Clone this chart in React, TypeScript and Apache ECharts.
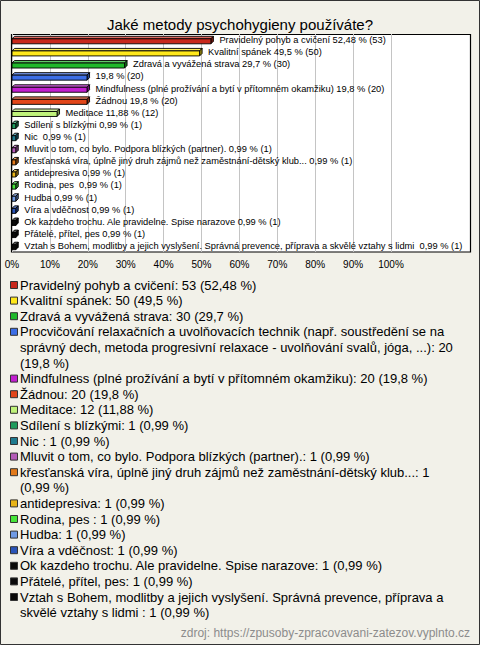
import React, { useEffect, useRef } from "react";
import * as echarts from "echarts";

const title = "Jaké metody psychohygieny používáte?";
const source = "zdroj: https://zpusoby-zpracovavani-zatezov.vyplnto.cz";

const names = [
  "Pravidelný pohyb a cvičení",
  "Kvalitní spánek",
  "Zdravá a vyvážená strava",
  "Procvičování relaxačních a uvolňovacích technik (např. soustředění se na správný dech, metoda progresivní relaxace - uvolňování svalů, jóga, ...)",
  "Mindfulness (plné prožívání a bytí v přítomném okamžiku)",
  "Žádnou",
  "Meditace",
  "Sdílení s blízkými",
  "Nic ",
  "Mluvit o tom, co bylo. Podpora blízkých (partner).",
  "křesťanská víra, úplně jiný druh zájmů než zaměstnání-dětský klub...",
  "antidepresiva",
  "Rodina, pes ",
  "Hudba",
  "Víra a vděčnost",
  "Ok kazdeho trochu. Ale pravidelne. Spise narazove",
  "Přátelé, přítel, pes",
  "Vztah s Bohem, modlitby a jejich vyslyšení. Správná prevence, příprava a skvělé vztahy s lidmi ",
];
const counts = [53, 50, 30, 20, 20, 20, 12, 1, 1, 1, 1, 1, 1, 1, 1, 1, 1, 1];
const pcts = [52.48, 49.5, 29.7, 19.8, 19.8, 19.8, 11.88, 0.99, 0.99, 0.99, 0.99, 0.99, 0.99, 0.99, 0.99, 0.99, 0.99, 0.99];
const colors = [
  "#c8281c", "#ffe81a", "#1fb82a", "#3c6ee6", "#c21fd0", "#e2461a",
  "#bff27a", "#1f9a5c", "#1f7a8e", "#b45cb8", "#e27a1c", "#e8b418",
  "#46e43a", "#6f9ae4", "#2a54b8", "#0a0a0a", "#0a0a0a", "#0a0a0a",
];

const FONT = "'Liberation Sans', Arial, sans-serif";
const fmt = (p: number) => String(p).replace(".", ",");

function shade(hex: string, f: number) {
  const n = parseInt(hex.slice(1), 16);
  let r = (n >> 16) & 255, g = (n >> 8) & 255, b = n & 255;
  if (f >= 0) {
    r = r + (255 - r) * f; g = g + (255 - g) * f; b = b + (255 - b) * f;
  } else {
    r = r * (1 + f); g = g * (1 + f); b = b * (1 + f);
  }
  return `rgb(${r | 0},${g | 0},${b | 0})`;
}

function wrapText(text: string, font: string, maxW: number): string[] {
  const ctx = document.createElement("canvas").getContext("2d")!;
  ctx.font = font;
  const words = text.split(" ");
  const lines: string[] = [];
  let cur = "";
  for (const w of words) {
    const t = cur ? cur + " " + w : w;
    if (ctx.measureText(t).width > maxW && cur) {
      lines.push(cur);
      cur = w;
    } else cur = t;
  }
  if (cur) lines.push(cur);
  return lines;
}

export default function App() {
  const ref = useRef<HTMLDivElement>(null);
  useEffect(() => {
    const chart = echarts.init(ref.current!, null, { renderer: "svg" });

    const legendFont = `13px ${FONT}`;
    const lineH = 15.6;
    const legendTop = 285 - lineH / 2;
    const legendEls: any[] = [];
    let lineIdx = 0;
    names.forEach((n, i) => {
      const txt = `${n}: ${counts[i]} (${fmt(pcts[i])}\u00a0%)`;
      const lines = wrapText(txt, legendFont, 448);
      const yTop = legendTop + lineIdx * lineH;
      legendEls.push({
        type: "rect",
        shape: { x: 10.5, y: yTop + lineH / 2 - 3.5, width: 7, height: 7 },
        style: { fill: colors[i], stroke: "#333", lineWidth: 1 },
      });
      legendEls.push({
        type: "text",
        style: {
          x: 20,
          y: yTop,
          text: lines.join("\n"),
          font: legendFont,
          lineHeight: lineH,
          verticalAlign: "top",
          fill: "#000",
        },
      });
      lineIdx += lines.length;
    });

    const option: any = {
      animation: false,
      backgroundColor: "#f2f1e9",
      title: {
        text: title,
        left: "center",
        top: 12,
        textStyle: { fontSize: 15, fontWeight: "normal", color: "#000", fontFamily: FONT },
      },
      grid: { left: 12, right: 89, top: 34, bottom: 393, containLabel: false },
      xAxis: {
        type: "value",
        min: 0,
        max: 100,
        interval: 10,
        axisLine: { show: false },
        axisTick: { show: false },
        splitLine: { show: true, lineStyle: { color: "#c4c4c4", width: 1 } },
        axisLabel: {
          formatter: "{value}%",
          fontSize: 10,
          color: "#000",
          fontFamily: FONT,
          margin: 7,
        },
        z: 1,
      },
      yAxis: {
        type: "category",
        inverse: true,
        data: names,
        show: false,
      },
      graphic: [
        {
          type: "rect",
          z: -10,
          shape: { x: 0.5, y: 0.5, width: 479, height: 644 },
          style: { fill: "#f2f1e9", stroke: "#333", lineWidth: 1 },
        },
        {
          type: "rect",
          z: -5,
          shape: { x: 11.5, y: 34.5, width: 459, height: 217.5 },
          style: { fill: "#fff", stroke: "#000", lineWidth: 1.2 },
        },
        ...legendEls,
        {
          type: "text",
          style: {
            x: 470,
            y: 633,
            text: source,
            font: `12px ${FONT}`,
            fill: "#8c8c8c",
            align: "right",
            verticalAlign: "middle",
          },
        },
      ],
      series: [
        {
          type: "custom",
          z: 5,
          clip: false,
          encode: { x: 0, y: 1 },
          data: pcts.map((p, i) => [p, i]),
          renderItem: (params: any, api: any) => {
            const v = api.value(0);
            const idx = api.value(1);
            const s = api.coord([0, idx]);
            const e = api.coord([v, idx]);
            const cy = s[1];
            const x0 = s[0];
            const x1 = e[0];
            const h = 5, d = 2.5;
            const ft = cy - 1.25;
            const fb = ft + h;
            const c = colors[idx];
            const showName = names[idx].length <= 120;
            const label = (showName ? names[idx] + " " : "") + `${fmt(pcts[idx])} % (${counts[idx]})`;
            const st = { stroke: "#000", lineWidth: 0.9 };
            return {
              type: "group",
              children: [
                {
                  type: "polygon",
                  shape: { points: [[x0, ft], [x0 + d, ft - d], [x1 + d, ft - d], [x1, ft]] },
                  style: { fill: shade(c, 0.3), ...st },
                },
                {
                  type: "polygon",
                  shape: { points: [[x1, ft], [x1 + d, ft - d], [x1 + d, fb - d], [x1, fb]] },
                  style: { fill: shade(c, -0.4), ...st },
                },
                {
                  type: "rect",
                  shape: { x: x0, y: ft, width: Math.max(x1 - x0, 0.5), height: h },
                  style: { fill: c, ...st },
                },
                {
                  type: "text",
                  style: {
                    x: x1 + d + 6,
                    y: cy,
                    text: label,
                    font: `9.3px ${FONT}`,
                    fill: "#000",
                    verticalAlign: "middle",
                  },
                },
              ],
            };
          },
        },
      ],
    };
    chart.setOption(option);
    return () => chart.dispose();
  }, []);
  return (
    <div
      ref={ref}
      style={{ position: "absolute", left: 0, top: 0, width: 480, height: 645 }}
    />
  );
}
